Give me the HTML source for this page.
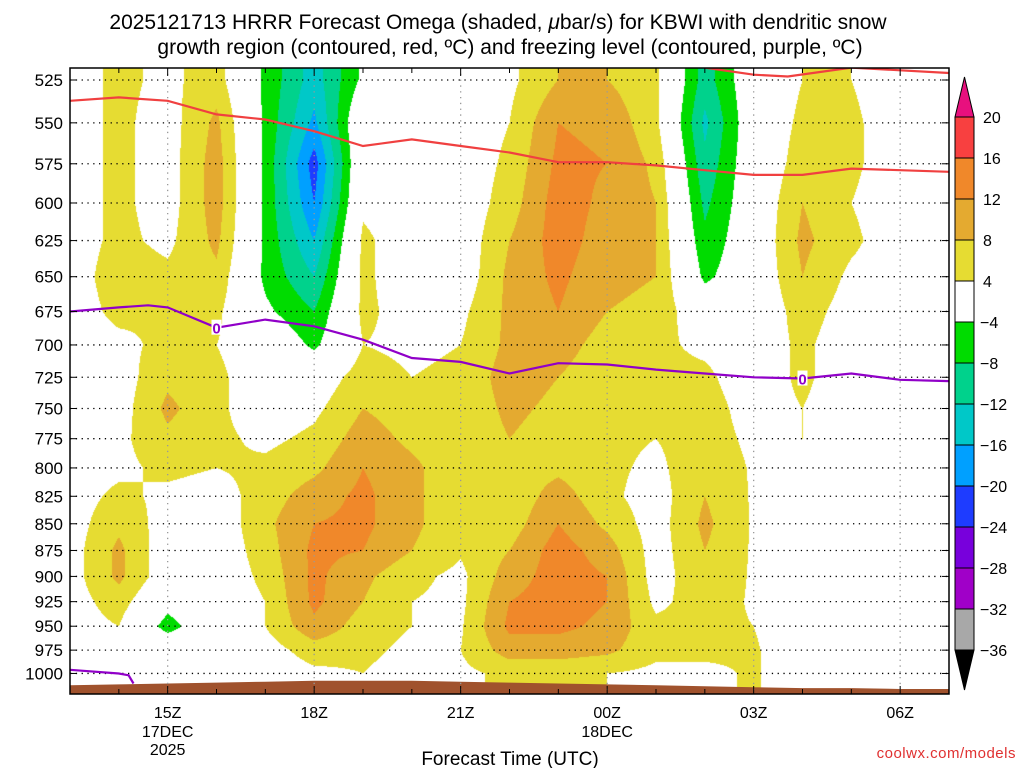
<!DOCTYPE html>
<html><head><meta charset="utf-8"><style>
html,body{margin:0;padding:0;background:#fff;}
#wrap{position:relative;width:1024px;height:768px;overflow:hidden;font-family:"Liberation Sans",sans-serif;}
canvas{position:absolute;left:70px;top:68px;}
svg{position:absolute;left:0;top:0;}
</style></head><body>
<div id="wrap">
<canvas id="cv" width="879" height="626"></canvas>
<svg id="sv" width="1024" height="768"></svg>
</div>
<script>
const hours=[13,14,15,16,17,18,19,20,21,22,23,24,25,26,27,28,29,30,31];
const levels=[525,550,575,600,625,650,675,700,725,750,775,800,825,850,875,900,925,950,975,1000];
const omega=[
[2,2,2,2,2,2,2,2,2,2,2,2,2,2,2,2,2,2,2,1],
[5,5,5,5,5,6,5,3,2,2,3,3,5,7,9,9,6,4,2,0],
[3,2,2,2,3,5,4,5,7,9,7,5,3,2,1,1,-2,-6,1,1],
[6,9,10,10,9,7,5,4,5,5,5,4,2,1,1,1,1,1,1,1],
[-5,-5,-5,-5,-5,-5,-3,1,1,1,3,5,6,7,6,5,4,4,2,1],
[-14,-17,-22,-20,-16,-12,-8,-5,1,3,5,7,10,12,13,13,13,11,6,3],
[-3,2,2,3,5,5,5,4,6,8,10,12,13,13,12,9,8,6,5,4],
[1,1,1,1,1,1,2,3,4,6,7,9,9,9,8,5,4,4,3,2],
[1,1,1,1,1,1,3,4,5,5,5,5,5,5,4.5,3,3,3.5,4,3],
[3,4,5,6,8,9,9,9,10,9,8,6,5,6,8,10,12,13,10,5],
[8,12,13,14,14,13,12,10,8,7,6,7,10,12,14,14,14,13,10,5],
[8,11,12,11,10,9,8,6,5,5,5,5,5,7,10,12,12,11,9,4],
[5,5,7,8,8,8,7,5,5,5,4,3,2,2,2,2,3,5,5,3],
[-10,-13,-11,-9,-7,-5,0,3,5,6,6,7,8,9,8,7,6,5,5,3],
[0,0,0,0,0,0,0,1,1,2,3,3.5,3.5,3.5,3.5,3.5,3.5,4,4.5,4.5],
[4,5,6,8,9,8,6,5,5,4,4,1,1,1,1,1,1,1,1,1],
[4,5,5,4,5,3,2,1,1,1,1,1,1,1,1,1,1,1,1,1],
[1,1,1,1,1,1,1,1,1,1,1,1,1,1,1,1,1,1,1,1],
[1,1,1,1,1,1,1,1,1,1,1,1,1,1,1,1,1,1,1,1]];
const redHours=[13,14,15,16,17,18,19,20,21,22,23,24,25,26,27,28,29,30,31];
const redP=[537,535,537,545,548,555,564,560,564,568,574,574,576,579,582,582,578,579,580];
const red2Hours=[26,27,27.7,29,31];
const red2P=[518,522,523,518,521];
const frzHours=[13,14,14.6,15,16,17,18,19,20,21,22,23,24,25,26,27,28,29,30,31];
const frzP=[675,672,670.5,672,687,681,686,696,710,713,722,714,715,719,722,725,726,722,727,728];
const frz2Hours=[13,14,14.2,14.3];
const frz2P=[996,1000,1002,1011];
const sfcP=[1013,1012,1011,1010,1009,1008,1008,1008,1009,1010,1011,1012,1013,1014,1015,1016,1016,1017,1017];
const cbLabels=["20","16","12","8","4","-4","-8","-12","-16","-20","-24","-28","-32","-36"];
const yLabels=[525,550,575,600,625,650,675,700,725,750,775,800,825,850,875,900,925,950,975,1000];
const xTickHours=[15,18,21,24,27,30];
const xTickLabels=["15Z","18Z","21Z","00Z","03Z","06Z"];

const L=70,R=949,T=68,B=694;
const xOf=h=>L+(h-13)*(R-L)/18;
const yOf=p=>80+921*Math.log(p/525);
const bounds=[-36,-32,-28,-24,-20,-16,-12,-8,-4,4,8,12,16,20];
const cols=["#000000","#a8a8a8","#a000c8","#7800dc","#1e3cff","#00a0ff","#00c8c8","#00d28c","#00dc00","#ffffff","#e6dc32","#e4aa30","#f0882a","#f84040","#e8107e"];
function hex(c){return [parseInt(c.substr(1,2),16),parseInt(c.substr(3,2),16),parseInt(c.substr(5,2),16)];}
const rgb=cols.map(hex);
const cv=document.getElementById('cv');const ctx=cv.getContext('2d');
const img=ctx.createImageData(879,626);
const ly=levels.map(yOf);const hx=hours.map(xOf);
for(let py=0;py<626;py++){
  const Y=py+T+0.5;let r=0;
  while(r<ly.length-2&&Y>ly[r+1])r++;
  let fy=(Y-ly[r])/(ly[r+1]-ly[r]);fy=Math.max(0,Math.min(1,fy));
  for(let px=0;px<879;px++){
    const X=px+L+0.5;let c=0;
    while(c<hx.length-2&&X>hx[c+1])c++;
    let fx=(X-hx[c])/(hx[c+1]-hx[c]);fx=Math.max(0,Math.min(1,fx));
    const v=(1-fx)*((1-fy)*omega[c][r]+fy*omega[c][r+1])+fx*((1-fy)*omega[c+1][r]+fy*omega[c+1][r+1]);
    let i=0;while(i<bounds.length&&v>=bounds[i])i++;
    const k=(py*879+px)*4;img.data[k]=rgb[i][0];img.data[k+1]=rgb[i][1];img.data[k+2]=rgb[i][2];img.data[k+3]=255;
  }
}
ctx.putImageData(img,0,0);
const NS="http://www.w3.org/2000/svg";const sv=document.getElementById('sv');
function el(t,a,txt){const e=document.createElementNS(NS,t);for(const k in a)e.setAttribute(k,a[k]);if(txt!==undefined)e.textContent=txt;sv.appendChild(e);return e;}
const defs=el('defs',{});const cp=document.createElementNS(NS,'clipPath');cp.setAttribute('id','pc');const cr=document.createElementNS(NS,'rect');
cr.setAttribute('x',L);cr.setAttribute('y',T);cr.setAttribute('width',R-L);cr.setAttribute('height',B-T);cp.appendChild(cr);defs.appendChild(cp);
let gp=`M${L},${B} `+hours.map((h,i)=>`L${xOf(h).toFixed(1)},${yOf(sfcP[i]).toFixed(1)}`).join(' ')+` L${R},${B} Z`;
let g=el('path',{d:gp,fill:'#a0522d','clip-path':'url(#pc)'});


levels.forEach(p=>{const y=yOf(p);let ln=el('line',{x1:L,x2:R,y1:y,y2:y,stroke:'#000','stroke-width':1.3,'stroke-dasharray':'1.3 4.5'});

});
xTickHours.forEach(h=>{const x=xOf(h);let ln=el('line',{x1:x,x2:x,y1:T,y2:B,stroke:'#999','stroke-width':1.3,'stroke-dasharray':'1.3 4.5'});

});
function line(hs,ps,color,name){const d=hs.map((h,i)=>(i?'L':'M')+xOf(h).toFixed(1)+','+yOf(ps[i]).toFixed(1)).join(' ');
const e=el('path',{d:d,fill:'none',stroke:color,'stroke-width':2.2,'clip-path':'url(#pc)'});

}
line(redHours,redP,'#f04040','dendritic-contour-line');
line(red2Hours,red2P,'#f04040','dendritic-contour-line-upper');
line(frzHours,frzP,'#9000c8','freezing-level-line');
line(frz2Hours,frz2P,'#9000c8','freezing-level-line-surface');
[16,28].forEach(h=>{let i=frzHours.indexOf(h);const x=xOf(h),y=yOf(frzP[i]);
el('rect',{x:x-5,y:y-8,width:10,height:15,fill:'#fff'});
let t=el('text',{x:x,y:y+6,'text-anchor':'middle','font-size':15,'font-weight':'bold',fill:'#9000c8'},'0');

});
el('rect',{x:L,y:T,width:R-L,height:B-T,fill:'none',stroke:'#000','stroke-width':1.5});
for(let h=13;h<=31;h++){const x=xOf(h);const big=xTickHours.includes(h);el('line',{x1:x,x2:x,y1:B,y2:B-(big?8:5),stroke:'#000'});el('line',{x1:x,x2:x,y1:T,y2:T+(big?8:5),stroke:'#000'});}
yLabels.forEach(p=>{const y=yOf(p);el('line',{x1:L,x2:L+7,y1:y,y2:y,stroke:'#000'});el('line',{x1:R,x2:R-7,y1:y,y2:y,stroke:'#000'});
let t=el('text',{x:63,y:y+6,'text-anchor':'end','font-size':17,fill:'#000'},String(p));

});
xTickHours.forEach((h,i)=>{let t=el('text',{x:xOf(h),y:718,'text-anchor':'middle','font-size':16},xTickLabels[i]);

});
el('text',{x:xOf(15),y:737,'text-anchor':'middle','font-size':16},'17DEC');
el('text',{x:xOf(15),y:755,'text-anchor':'middle','font-size':16},'2025');
el('text',{x:xOf(24),y:737,'text-anchor':'middle','font-size':16},'18DEC');
let xt=el('text',{x:510,y:765,'text-anchor':'middle','font-size':19},'Forecast Time (UTC)');


let cw=el('text',{x:1016,y:758,'text-anchor':'end','font-size':15,fill:'#e03030','letter-spacing':'0.5'},'coolwx.com/models');


let t1=el('text',{x:498,y:29,'text-anchor':'middle','font-size':21},'');
t1.innerHTML='2025121713 HRRR Forecast Omega (shaded, <tspan font-style="italic">μ</tspan>bar/s) for KBWI with dendritic snow';


let t2=el('text',{x:510,y:54,'text-anchor':'middle','font-size':21},'growth region (contoured, red, ºC) and freezing level (contoured, purple, ºC)');


const cbX=955,cbW=19,cbTop=117,cbStep=41;
el('polygon',{points:`${cbX},${cbTop} ${cbX+cbW},${cbTop} ${cbX+cbW/2},77`,fill:cols[14],stroke:'#000'});
for(let i=0;i<13;i++){let b=el('rect',{x:cbX,y:cbTop+i*cbStep,width:cbW,height:cbStep,fill:cols[13-i],stroke:'#000'});

}
el('polygon',{points:`${cbX},${cbTop+13*cbStep} ${cbX+cbW},${cbTop+13*cbStep} ${cbX+cbW/2},690`,fill:'#000',stroke:'#000'});
cbLabels.forEach((s,i)=>{let t=el('text',{x:s[0]=='-'?980:983,y:cbTop+i*cbStep+6,'font-size':16},s.replace('-','−'));

});
</script>
</body></html>
